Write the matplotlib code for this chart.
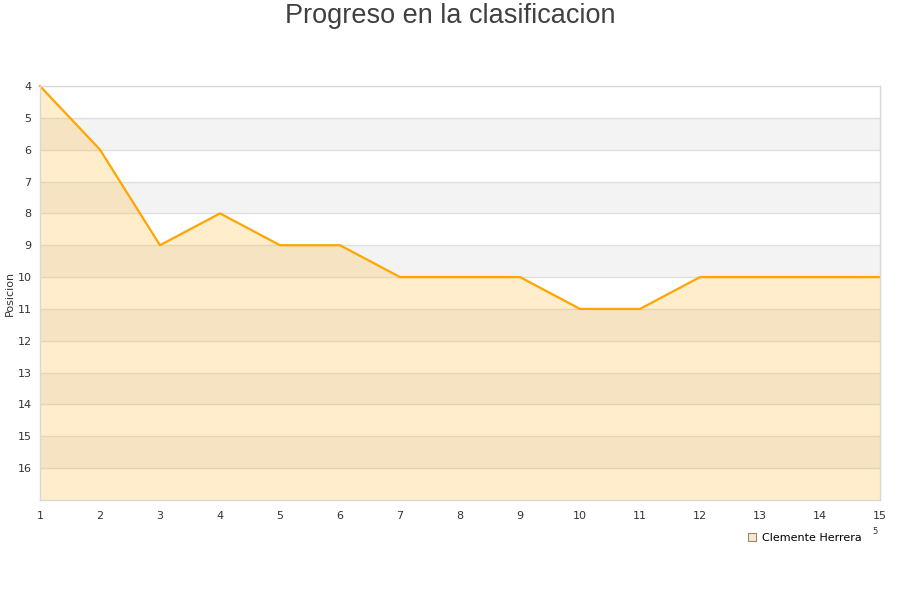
import matplotlib
matplotlib.use("Agg")
import matplotlib.pyplot as plt
from matplotlib.lines import Line2D

rounds = list(range(1, 16))
positions = [4, 6, 9, 8, 9, 9, 10, 10, 10, 11, 11, 10, 10, 10, 10]
series_name = "Clemente Herrera"
y_ticks = list(range(4, 17))
title = "Progreso en la clasificacion"
y_label = "Posicion"

fig = plt.figure(figsize=(9, 6), dpi=100)
ax = fig.add_axes([40/900, 1-500/600, 840/900, 414/600])
ax.set_xlim(1, 15)
ax.set_ylim(17, 4)

# alternating bands
for lo in range(5, 17, 2):
    ax.axhspan(lo, lo+1, color="#f3f3f3", zorder=0, lw=0)
for y in range(5, 17):
    ax.axhline(y, color="#e0e0e0", lw=1, zorder=0.5)

ax.fill_between(rounds, positions, 17, color="#ffa500", alpha=0.2, lw=0, zorder=1)
ax.plot(rounds, positions, color="#ffa500", lw=1.6, zorder=2, clip_on=False)

ax.set_xticks(rounds)
ax.set_yticks(y_ticks)
ax.tick_params(length=0, labelsize=8, colors="#333333")
ax.tick_params(axis="y", pad=6)
ax.tick_params(axis="x", pad=8)
for s in ax.spines.values():
    s.set_color("#d8d8d8")
    s.set_linewidth(1)

ax.set_ylabel(y_label, fontsize=8, color="#333333")
ax.yaxis.set_label_coords(-0.030, 0.5)
fig.text(0.5, 1-16/600, title, ha="center", va="center", fontsize=19.5,
         color="#404040", family="Liberation Sans")

handle = Line2D([], [], marker="s", linestyle="none", markersize=6,
                markerfacecolor="#ffe8c0", markeredgecolor="#888888", markeredgewidth=0.8)
fig.legend([handle], [series_name], loc="center left", bbox_to_anchor=(741/900, 1-538/600),
           frameon=False, fontsize=8, handletextpad=0.4, borderpad=0, handlelength=1)
fig.text(875/900, 1-532/600, "5", fontsize=6, color="#333333", ha="center", va="center")

fig.savefig("out.png", dpi=100)
